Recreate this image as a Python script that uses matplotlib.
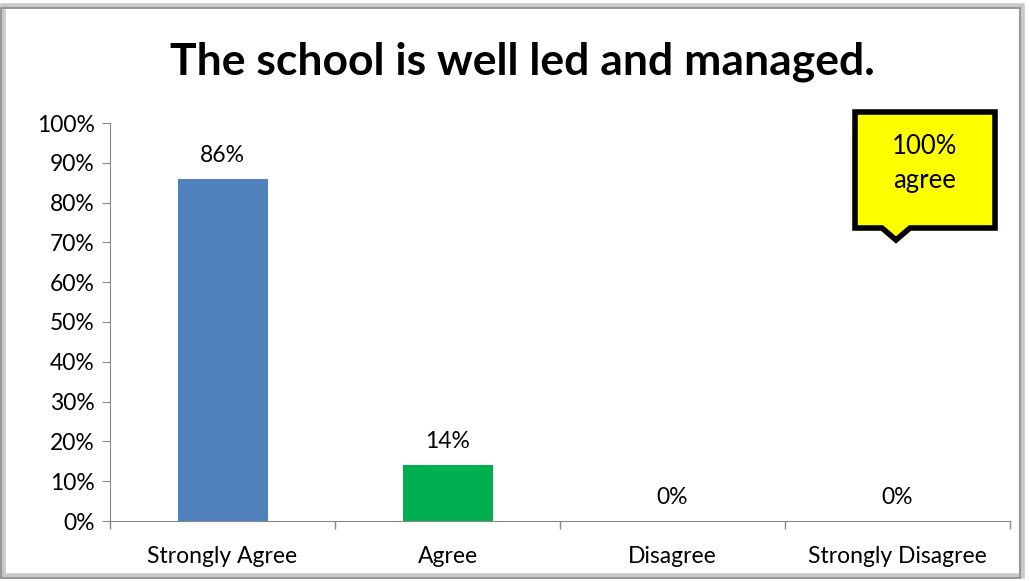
import matplotlib
matplotlib.use("Agg")
import matplotlib.pyplot as plt
from matplotlib.patches import Polygon, Rectangle
from matplotlib.ticker import PercentFormatter, FixedLocator

categories = ["Strongly Agree", "Agree", "Disagree", "Strongly Disagree"]
values = [86, 14, 0, 0]
labels = ["86%", "14%", "0%", "0%"]
colors = ["#4F81BD", "#00B050", "#4F81BD", "#4F81BD"]
title = "The school is well led and managed."
callout_text = "100%\nagree"

W, H = 1029, 581
plt.rcParams['font.family'] = ['Lato', 'DejaVu Sans']
fig = plt.figure(figsize=(W / 100, H / 100), dpi=100)

# outer frame
fig.patches.append(Rectangle((3 / W, 5 / H), 1019 / W, 570 / H, transform=fig.transFigure,
                             fill=False, edgecolor="#C8C8C8", linewidth=4, zorder=0))
fig.patches.append(Rectangle((1 / W, 3 / H), 1019 / W, 570 / H, transform=fig.transFigure,
                             fill=False, edgecolor="#8C8C8C", linewidth=1.2, zorder=1))

ax = fig.add_axes([110 / W, 1 - 521 / H, 900 / W, 398 / H])
x = list(range(len(categories)))
ax.bar(x, values, width=0.4, color=colors)
for xi, v, lab in zip(x, values, labels):
    ax.text(xi, v + 3.3, lab, ha="center", va="bottom", fontsize=16.5)

ax.set_xlim(-0.5, 3.5)
ax.set_ylim(0, 100)
ax.set_yticks(range(0, 101, 10))
ax.yaxis.set_major_formatter(PercentFormatter(decimals=0))
ax.set_xticks(x)
ax.set_xticklabels(categories, fontsize=16.5)
ax.xaxis.set_minor_locator(FixedLocator([-0.5, 0.5, 1.5, 2.5, 3.5]))
ax.tick_params(axis="x", which="major", length=0, pad=18)
ax.tick_params(axis="x", which="minor", length=6, color="#888888", width=1)
ax.tick_params(axis="y", length=6, color="#888888", labelsize=16.5, pad=5)
for s in ["top", "right"]:
    ax.spines[s].set_visible(False)
for s in ["left", "bottom"]:
    ax.spines[s].set_color("#888888")

fig.text(522 / W, 1 - 62 / H, title, ha="center", va="center", fontsize=32, fontweight="bold")

# callout
pts = [(855, 112), (995, 112), (995, 228), (910, 228), (896, 240), (882, 228), (855, 228)]
poly = Polygon([(px / W, 1 - py / H) for px, py in pts], closed=True, transform=fig.transFigure,
               facecolor="#FFFF00", edgecolor="black", linewidth=4, joinstyle="miter", zorder=5)
fig.patches.append(poly)
fig.text(925 / W, 1 - 163 / H, callout_text, ha="center", va="center", fontsize=18.5,
         linespacing=1.45, zorder=6)

fig.savefig("out.png", dpi=100)
